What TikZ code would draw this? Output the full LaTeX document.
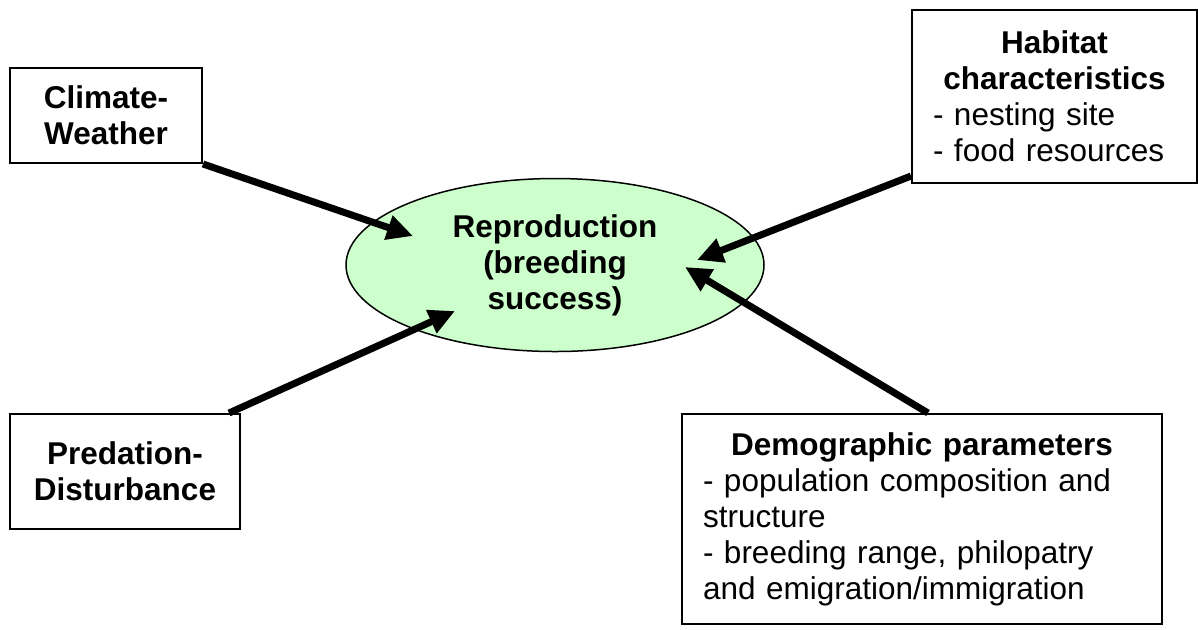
\documentclass[tikz,border=0pt]{standalone}
\usepackage{fontspec}
\setmainfont{Liberation Sans}
\usepackage{tikz}
\usetikzlibrary{arrows.meta,positioning,shapes.geometric}

\begin{document}
\begin{tikzpicture}[x=0.5pt,y=-0.5pt,
    font=\fontsize{15.75}{18}\selectfont,
    factor/.style={draw,line width=1pt,inner sep=0pt,align=center,font=\fontsize{15.75}{18}\selectfont\bfseries},
    infobox/.style={draw,line width=1pt,inner xsep=10.5pt,inner ysep=0pt},
    pull/.style={line width=3.5pt,-{Triangle[length=13pt,width=12pt]}}]
                        \useasboundingbox (0,0) rectangle (1198,629);
                        \node[ellipse,draw,line width=0.75pt,fill={rgb,255:red,204;green,255;blue,204},
                            minimum width=209pt,minimum height=86.5pt,inner sep=0pt,align=center,
                            font=\fontsize{15.75}{18}\selectfont\bfseries] (repro) at (555,265)
                            {Reproduction\\(breeding\\success)};
                        \node[factor,minimum width=96pt,minimum height=47.5pt] (clim) at (106,115.5)
                            {Climate-\\Weather};
                        \node[factor,minimum width=115pt,minimum height=57.5pt] (pred) at (125,471.5)
                            {Predation-\\Disturbance};
                        \node[infobox,text width=121.5pt,minimum height=86.5pt] (hab) at (1054.5,96.5)
                            {\centering\textbf{Habitat}\\\textbf{characteristics}\par
                             \raggedright - nesting site\\- food resources\par};
                        \node[infobox,text width=219pt,minimum height=105pt] (demo) at (922,519)
                            {\centering\textbf{Demographic parameters}\par
                             \raggedright - population composition and\\structure\\
                             - breeding range, philopatry\\and emigration/immigration\\[1.5ex]\par};
                        \coordinate (tipclim) at (413,236);
                        \coordinate (tippred) at (455,311);
                        \coordinate (tiphab) at (697,260);
                        \coordinate (tipdemo) at (685,267);
                        \draw[pull] (clim.south east) -- (tipclim);
                        \draw[pull] ([xshift=-6pt]pred.north east) -- (tippred);
                        \draw[pull] ([yshift=4pt]hab.south west) -- (tiphab);
                        \draw[pull] ([xshift=3pt]demo.north) -- (tipdemo);
                    \end{tikzpicture}
\end{document}
